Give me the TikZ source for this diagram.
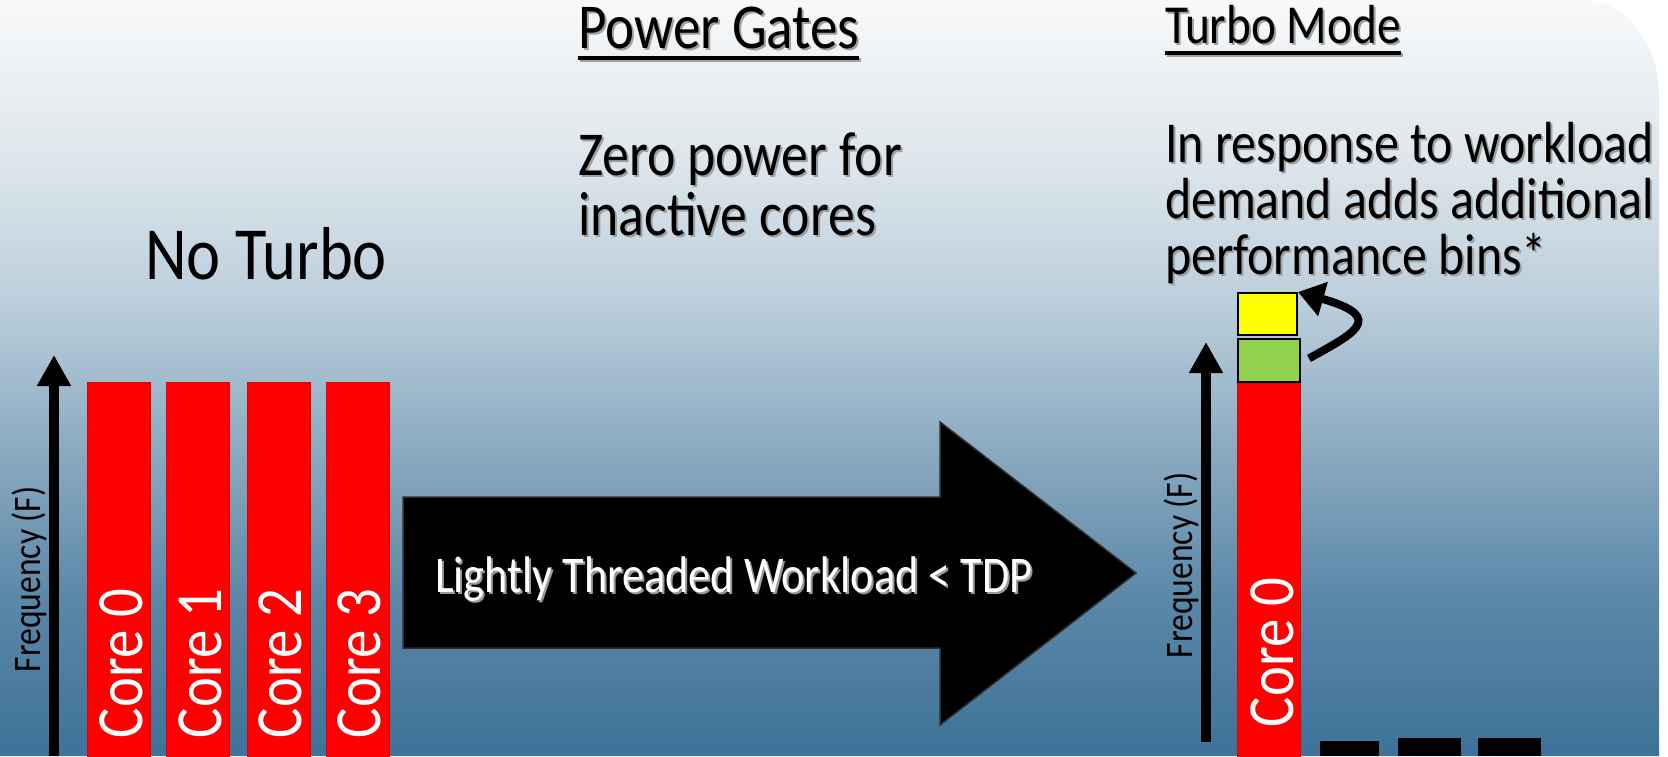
\documentclass[tikz,border=0pt]{standalone}
\usepackage{fontspec}
\setmainfont{Carlito}[FakeStretch=0.86]
\usetikzlibrary{arrows.meta}
\definecolor{bgA}{HTML}{3E7298}
\definecolor{bgB}{HTML}{5A87A8}
\definecolor{bgC}{HTML}{8AAAC0}
\definecolor{bgD}{HTML}{BCCFDC}
\definecolor{bgE}{HTML}{DFE7EC}
\definecolor{bgF}{HTML}{F8F9FA}
\definecolor{coreRed}{HTML}{FF0000}
\definecolor{binGreen}{HTML}{92D050}
\definecolor{binYellow}{HTML}{FFFF00}
\definecolor{shd}{HTML}{A0A0A0}
\definecolor{shw}{HTML}{9A9A9A}
\pgfdeclareverticalshading{bgsh}{100bp}{color(0bp)=(bgA); color(25bp)=(bgA); color(35.3bp)=(bgB); color(45.2bp)=(bgC); color(55.2bp)=(bgD); color(65bp)=(bgE); color(75bp)=(bgF); color(100bp)=(bgF)}
\newcommand{\shtxt}[2]{\makebox[0pt][l]{\hspace{2pt}\raisebox{-2pt}{\textcolor{#1}{#2}}}#2}
\newcommand{\ulin}[1]{\setbox0=\hbox{#1}\rlap{\rule[-11.5pt]{\wd0}{4pt}}\box0}
\begin{document}
\begin{tikzpicture}[x=1pt,y=-1pt,
  lbl/.style={inner sep=0pt, outer sep=0pt, anchor=base west},
  corebar/.style={fill=coreRed, draw=coreRed!88!black, line width=1pt, inner sep=0pt, minimum width=63pt, anchor=north west},
  corelbl/.style={lbl, rotate=90, text=white, font=\fontsize{66}{66}\selectfont},
  freqlbl/.style={lbl, rotate=90, font=\fontsize{39}{39}\selectfont},
  axis/.style={line width=10pt, -{Triangle[length=31pt,width=32pt]}},
  bin/.style={draw=black, line width=2pt, inner sep=0pt, anchor=north west},
  blk/.style={fill=black, inner sep=0pt, outer sep=0pt, anchor=north west},
]
\useasboundingbox (0,0) rectangle (1668,756);
\fill[white] (0,0) rectangle (1668,756);
\shade[shading=bgsh] (0,756) -- (0,0) -- (1585,0) .. controls (1625,0) and (1659,45) .. (1659,93) -- (1659,756) -- cycle;

% headings and texts (multi-line nodes: base = last line)
\node[lbl, font=\fontsize{64}{64}\selectfont] (pg) at (578,48) {\shtxt{shd}{\ulin{Power Gates}}};
\node[lbl, align=left, font=\fontsize{62.5}{60}\selectfont] (zp) at (578,235) {\shtxt{shd}{Zero power for}\\\shtxt{shd}{inactive cores}};
\node[lbl, font=\fontsize{75}{75}\selectfont] (nt) at (145,279) {No Turbo};
\node[lbl, font=\fontsize{55}{55}\selectfont] (tm) at (1165,43) {\shtxt{shd}{\ulin{Turbo Mode}}};
\node[lbl, align=left, font=\fontsize{58}{56}\selectfont] (ir) at (1165,274) {\shtxt{shd}{In response to workload}\\\shtxt{shd}{demand adds additional}\\\shtxt{shd}{performance bins*}};

% left: no turbo
\coordinate (lax0) at (54,756);
\coordinate (lax1) at (54,355);
\draw[axis] (lax0) -- (lax1);
\node[freqlbl] (lfr) at (40,672) {Frequency (F)};
\node[corebar, minimum height=375pt] (c0) at (87,382) {};
\node[corebar, minimum height=375pt] (c1) at (166,382) {};
\node[corebar, minimum height=375pt] (c2) at (247,382) {};
\node[corebar, minimum height=375pt] (c3) at (326,382) {};
\node[corelbl] (l0) at (142,738) {Core 0};
\node[corelbl] (l1) at (221,738) {Core 1};
\node[corelbl] (l2) at (301,738) {Core 2};
\node[corelbl] (l3) at (380,738) {Core 3};

% big arrow
\fill[black, draw=black!82!white, line width=1.5pt] (403,497) -- (940,497) -- (940,422) -- (1136,573) -- (940,725) -- (940,648) -- (403,648) -- cycle;
\node[lbl, text=white, font=\fontsize{51.5}{52}\selectfont] (lt) at (435,592) {\shtxt{shw}{Lightly Threaded Workload < TDP}};

% right: turbo mode
\coordinate (rax0) at (1206,742);
\coordinate (rax1) at (1206,342);
\draw[axis] (rax0) -- (rax1);
\node[freqlbl] (rfr) at (1192,658) {Frequency (F)};
\node[corebar, minimum height=374pt] (rc0) at (1237,383) {};
\node[corelbl] (rl0) at (1293,727) {Core 0};
\node[bin, fill=binGreen, minimum width=62pt, minimum height=43pt] (gbin) at (1237,338) {};
\node[bin, fill=binYellow, minimum width=59pt, minimum height=42pt] (ybin) at (1237,292) {};
\coordinate (cs) at ([shift={(8pt,2pt)}]gbin.east);
\draw[line width=8pt, -{Triangle[length=26pt,width=34pt]}] (cs) .. controls (1350,335) and (1390,318) .. (ybin.north east);

% idle cores
\node[blk, minimum width=59pt, minimum height=15pt] (k1) at (1320,741) {};
\node[blk, minimum width=63pt, minimum height=18pt] (k2) at (1398,738) {};
\node[blk, minimum width=63pt, minimum height=18pt] (k3) at (1478,738) {};
\end{tikzpicture}
\end{document}
